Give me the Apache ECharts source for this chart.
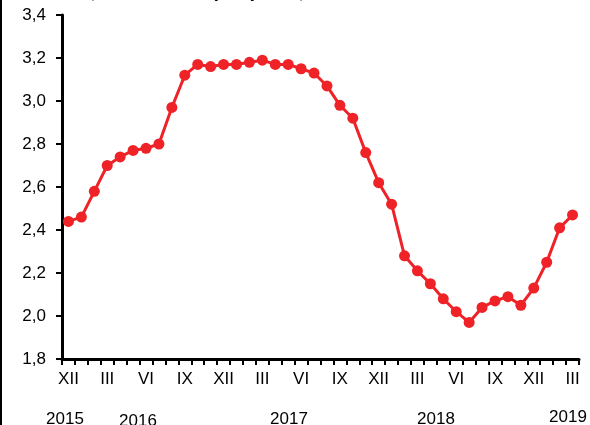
<!DOCTYPE html>
<html>
<head>
<meta charset="utf-8">
<script src="https://cdn.jsdelivr.net/npm/echarts@6/dist/echarts.min.js"></script>
<style>
  html, body { margin: 0; padding: 0; background: #fff; }
  #chart { width: 590px; height: 425px; }
</style>
</head>
<body>
<div id="chart"></div>
<script>
// 月份（2015年12月 - 2019年3月）
const months = [
  'XII',
  'I', 'II', 'III', 'IV', 'V', 'VI', 'VII', 'VIII', 'IX', 'X', 'XI', 'XII',
  'I', 'II', 'III', 'IV', 'V', 'VI', 'VII', 'VIII', 'IX', 'X', 'XI', 'XII',
  'I', 'II', 'III', 'IV', 'V', 'VI', 'VII', 'VIII', 'IX', 'X', 'XI', 'XII',
  'I', 'II', 'III'
];

// 数值
const values = [
  2.44,
  2.46, 2.58, 2.70, 2.74, 2.77, 2.78, 2.80, 2.97, 3.12, 3.17, 3.16, 3.17,
  3.17, 3.18, 3.19, 3.17, 3.17, 3.15, 3.13, 3.07, 2.98, 2.92, 2.76, 2.62,
  2.52, 2.28, 2.21, 2.15, 2.08, 2.02, 1.97, 2.04, 2.07, 2.09, 2.05, 2.13,
  2.25, 2.41, 2.47
];

// 年份标签
const years = ['2015', '2016', '2017', '2018', '2019'];
const yearX = [65, 138, 289, 436, 568];
const yearY = [411, 413, 411, 411, 409];

const chart = echarts.init(document.getElementById('chart'));

const font = 'Liberation Sans, Arial, sans-serif';

const option = {
  backgroundColor: '#ffffff',
  animation: false,
  grid: {
    left: 62,
    right: 11,
    top: 15,
    bottom: 66
  },
  xAxis: {
    type: 'category',
    data: months,
    boundaryGap: true,
    axisLine: {
      show: true,
      lineStyle: { color: '#000', width: 3 }
    },
    axisTick: {
      show: true,
      inside: false,
      interval: 0,
      length: 6,
      lineStyle: { color: '#000', width: 2, opacity: 1 }
    },
    axisLabel: {
      interval: 2,
      margin: 12,
      color: '#000',
      fontSize: 17,
      fontFamily: font
    },
    splitLine: { show: false }
  },
  yAxis: {
    type: 'value',
    min: 1.8,
    max: 3.4,
    interval: 0.2,
    axisLine: {
      show: true,
      lineStyle: { color: '#000', width: 3 }
    },
    axisTick: {
      show: true,
      inside: false,
      length: 6,
      lineStyle: { color: '#000', width: 2, opacity: 1 }
    },
    axisLabel: {
      margin: 16,
      color: '#000',
      fontSize: 17,
      fontFamily: font,
      formatter: function(v) {
        return v.toFixed(1).replace('.', ',');
      }
    },
    splitLine: { show: false }
  },
  series: [{
    type: 'line',
    data: values,
    symbol: 'circle',
    symbolSize: 11,
    showAllSymbol: true,
    lineStyle: { color: '#ee2227', width: 3 },
    itemStyle: { color: '#ee2227' }
  }],
  graphic: [
    // 左侧边框
    {
      type: 'line',
      shape: { x1: 1, y1: 0, x2: 1, y2: 425 },
      style: { stroke: '#000', lineWidth: 2 }
    },
    // 顶部被裁掉的标题
    {
      type: 'text',
      x: 88,
      y: 1,
      style: {
        text: '(in %, estimated, yearly basis)',
        fontFamily: 'Liberation Serif, Times New Roman, serif',
        fontSize: 18,
        fill: '#000',
        verticalAlign: 'bottom'
      }
    }
  ].concat(years.map((y, i) => ({
    type: 'text',
    x: yearX[i],
    y: yearY[i],
    style: {
      text: y,
      fontFamily: font,
      fontSize: 17,
      fill: '#000',
      align: 'center',
      verticalAlign: 'top'
    }
  })))
};

chart.setOption(option);
</script>
</body>
</html>
